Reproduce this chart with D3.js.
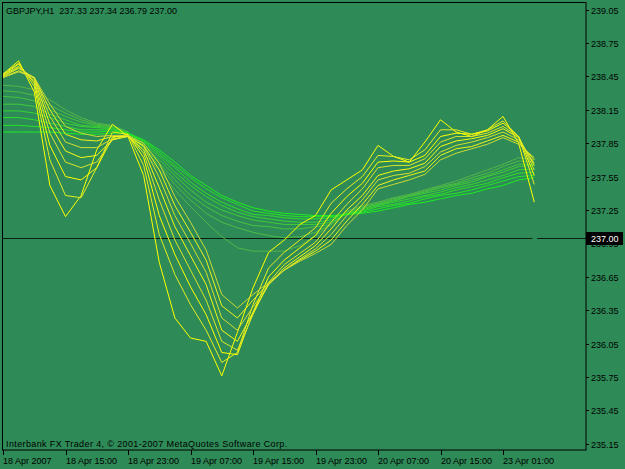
<!DOCTYPE html>
<html><head><meta charset="utf-8">
<script src="https://cdn.jsdelivr.net/npm/d3@7"></script>
<style>html,body{margin:0;padding:0;background:#2e8b57;}svg{display:block;}text{font-family:"Liberation Sans",Arial,sans-serif;font-size:9px;fill:#000;}</style>
</head><body><svg id="c" width="625" height="469"></svg>
<script>
// bar index (hourly bars, every 2nd bar sampled)
const bars = [0,2,4,6,8,10,12,14,16,18,20,22,24,26,28,30,32,34,36,38,40,42,44,46,48,50,52,54,56,58,60,62,64,66,68];
const xTickBars = [0,8,16,24,32,40,48,56,64];
const xTickLabels = ["18 Apr 2007","18 Apr 15:00","18 Apr 23:00","19 Apr 07:00","19 Apr 15:00","19 Apr 23:00","20 Apr 07:00","20 Apr 15:00","23 Apr 01:00"];
const yTicks = [235.15,235.45,235.75,236.05,236.35,236.65,236.95,237.25,237.55,237.85,238.15,238.45,238.75,239.05];
const lastPrice = 237.00;
const title = "GBPJPY,H1  237.33 237.34 236.79 237.00";
const footer = "Interbank FX Trader 4, \u00A9 2001-2007 MetaQuotes Software Corp.";

// short-term averages (fastest first)
const fast1 = [238.47,238.59,238.31,237.47,237.19,237.38,237.79,238.02,237.91,237.56,236.78,236.28,236.10,236.07,235.76,236.15,236.55,236.87,236.98,237.12,237.20,237.43,237.52,237.61,237.83,237.73,237.68,237.86,238.06,237.95,237.91,237.97,238.09,237.85,237.32];
const fast2 = [238.47,238.57,238.36,237.70,237.38,237.36,237.63,237.95,237.93,237.65,237.03,236.67,236.40,236.17,235.88,235.97,236.40,236.73,236.87,236.98,237.09,237.31,237.44,237.55,237.74,237.73,237.70,237.79,237.97,237.97,237.93,237.97,238.05,237.91,237.48];
const fast3 = [238.46,238.56,238.39,237.83,237.55,237.52,237.63,237.90,237.93,237.72,237.20,236.85,236.56,236.31,235.97,235.95,236.33,236.65,236.80,236.91,237.02,237.22,237.37,237.49,237.68,237.69,237.68,237.74,237.91,237.94,237.93,237.96,238.03,237.91,237.56];
const fast4 = [238.46,238.54,238.41,237.94,237.68,237.63,237.68,237.88,237.92,237.76,237.34,236.98,236.71,236.44,236.07,235.99,236.31,236.60,236.76,236.86,236.96,237.14,237.30,237.44,237.63,237.65,237.65,237.71,237.86,237.91,237.91,237.94,238.00,237.91,237.61];
const fast5 = [238.45,238.53,238.43,238.02,237.78,237.72,237.74,237.88,237.91,237.79,237.45,237.10,236.84,236.58,236.17,236.07,236.33,236.58,236.73,236.83,236.93,237.08,237.25,237.38,237.56,237.60,237.62,237.67,237.82,237.87,237.89,237.92,237.98,237.90,237.65];
const fast6 = [238.45,238.52,238.44,238.09,237.86,237.81,237.81,237.89,237.91,237.82,237.54,237.20,236.95,236.69,236.28,236.17,236.38,236.58,236.71,236.81,236.90,237.03,237.20,237.34,237.52,237.56,237.58,237.64,237.77,237.83,237.86,237.90,237.95,237.88,237.67];
const fast7 = [238.44,238.50,238.44,238.15,237.93,237.88,237.87,237.91,237.91,237.83,237.61,237.29,237.05,236.80,236.39,236.28,236.44,236.59,236.71,236.80,236.88,236.98,237.15,237.30,237.47,237.52,237.56,237.60,237.74,237.80,237.82,237.87,237.92,237.86,237.70];
const fast8 = [238.44,238.49,238.44,238.20,238.00,237.94,237.91,237.92,237.92,237.85,237.67,237.37,237.14,236.89,236.49,236.37,236.49,236.60,236.71,236.79,236.86,236.94,237.11,237.25,237.44,237.48,237.52,237.57,237.70,237.76,237.80,237.84,237.90,237.84,237.72];

// long-term averages (fastest first)
const slow1 = [238.37,238.36,238.33,238.24,238.15,238.08,238.03,238.01,237.95,237.76,237.61,237.43,237.28,237.14,237.01,236.91,236.88,236.88,236.88,236.93,237.02,237.12,237.24,237.29,237.32,237.36,237.39,237.43,237.47,237.51,237.56,237.61,237.66,237.72,237.70];
const slow2 = [238.32,238.31,238.28,238.19,238.12,238.06,238.02,238.00,237.95,237.79,237.65,237.48,237.34,237.22,237.14,237.09,237.05,237.02,237.00,237.01,237.05,237.12,237.23,237.28,237.31,237.35,237.38,237.42,237.46,237.49,237.54,237.58,237.64,237.69,237.68];
const slow3 = [238.27,238.26,238.23,238.15,238.09,238.04,238.01,238.00,237.95,237.81,237.67,237.52,237.38,237.28,237.20,237.15,237.11,237.10,237.08,237.08,237.10,237.12,237.22,237.27,237.30,237.34,237.38,237.41,237.45,237.48,237.52,237.56,237.61,237.66,237.66];
const slow4 = [238.20,238.20,238.18,238.11,238.06,238.01,238.00,237.99,237.94,237.82,237.70,237.56,237.43,237.32,237.25,237.20,237.16,237.14,237.12,237.12,237.12,237.14,237.22,237.26,237.30,237.33,237.37,237.40,237.43,237.47,237.50,237.55,237.59,237.64,237.65];
const slow5 = [238.14,238.14,238.12,238.08,238.03,238.00,237.99,237.98,237.94,237.84,237.73,237.59,237.47,237.37,237.29,237.23,237.19,237.17,237.15,237.14,237.14,237.16,237.21,237.25,237.29,237.32,237.35,237.38,237.41,237.45,237.48,237.52,237.56,237.61,237.62];
const slow6 = [238.08,238.08,238.06,238.03,238.00,237.97,237.97,237.97,237.94,237.86,237.75,237.63,237.50,237.40,237.32,237.26,237.21,237.20,237.18,237.17,237.17,237.18,237.21,237.24,237.28,237.30,237.33,237.37,237.39,237.43,237.46,237.49,237.54,237.58,237.59];
const slow7 = [238.01,238.01,238.00,237.99,237.97,237.95,237.95,237.96,237.94,237.87,237.77,237.65,237.54,237.44,237.36,237.30,237.24,237.22,237.20,237.19,237.19,237.19,237.21,237.23,237.26,237.29,237.31,237.35,237.38,237.40,237.43,237.47,237.51,237.55,237.56];
const slow8 = [237.95,237.95,237.95,237.95,237.94,237.93,237.93,237.94,237.94,237.88,237.79,237.68,237.56,237.47,237.38,237.32,237.27,237.24,237.22,237.21,237.20,237.20,237.21,237.22,237.24,237.27,237.30,237.32,237.35,237.38,237.40,237.44,237.47,237.52,237.54];

const fastSeries = [fast1,fast2,fast3,fast4,fast5,fast6,fast7,fast8];
const slowSeries = [slow1,slow2,slow3,slow4,slow5,slow6,slow7,slow8];
const fastColors = ["#ffff00","#e4ee20","#ffff00","#dae62a","#f6fa12","#d2e030","#eef41a","#ccda34"];
const slowColors = ["#56b44a","#4ebc44","#46c43e","#3ecc38","#36d432","#2edc2c","#26e426","#1eec20"];

const svg = d3.select("#c");
const L = 3, R = 586, T = 2, B = 450;
svg.append("rect").attr("width",625).attr("height",469).attr("fill","#2e8b57");

const x = d3.scaleLinear().domain([0, (R - L) / 7.8125]).range([L, R]);
const y = d3.scaleLinear().domain([235.094, 239.118]).range([B, T]);

// last price line (with the small gap at the current bar, as in the terminal)
const lpY = Math.round(y(lastPrice))+0.5;
const lastBar = bars[bars.length-1];
svg.append("line").attr("x1",L).attr("x2",x(lastBar)-2)
  .attr("y1",lpY).attr("y2",lpY).attr("stroke","#0a1f0f").attr("stroke-width",1);
svg.append("line").attr("x1",x(lastBar)+3).attr("x2",R)
  .attr("y1",lpY).attr("y2",lpY).attr("stroke","#0a1f0f").attr("stroke-width",1);

const line = d3.line().x((d,i)=>x(bars[i])).y(d=>y(d));
const g = svg.append("g");
slowSeries.forEach((s,i)=>{
  g.append("path").attr("d",line(s)).attr("fill","none").attr("stroke",slowColors[i]).attr("stroke-width",1);
});
fastSeries.forEach((s,i)=>{
  g.append("path").attr("d",line(s)).attr("fill","none").attr("stroke",fastColors[i]).attr("stroke-width",1);
});

// frame
svg.append("rect").attr("x",L-0.5).attr("y",T+0.5).attr("width",R-L+0.5).attr("height",B-T-0.5)
  .attr("fill","none").attr("stroke","#000").attr("stroke-width",1);

// y axis (right)
const ya = svg.append("g");
yTicks.forEach(v=>{
  const yy = Math.round(y(v))+0.5;
  ya.append("line").attr("x1",R).attr("x2",R+3).attr("y1",yy).attr("y2",yy).attr("stroke","#000");
  ya.append("text").attr("x",R+5).attr("y",yy).attr("dy","0.35em").text(v.toFixed(2));
});
// last price box
const ly = Math.round(y(lastPrice));
svg.append("rect").attr("x",R).attr("y",ly-6).attr("width",37).attr("height",13).attr("fill","#000");
svg.append("text").attr("x",R+5).attr("y",ly+0.5).attr("dy","0.35em").style("fill","#fff").text(lastPrice.toFixed(2));

// x axis (bottom)
const xa = svg.append("g");
xTickBars.forEach((b,i)=>{
  const xx = Math.round(x(b))+0.5;
  xa.append("line").attr("x1",xx).attr("x2",xx).attr("y1",B).attr("y2",B+5).attr("stroke","#000");
  xa.append("text").attr("x",xx-0.5).attr("y",B+14).text(xTickLabels[i]);
});

svg.append("text").attr("x",6).attr("y",14).attr("xml:space","preserve").style("white-space","pre").text(title);
svg.append("text").attr("x",6).attr("y",447).style("letter-spacing","0.38px").text(footer);
</script></body></html>
